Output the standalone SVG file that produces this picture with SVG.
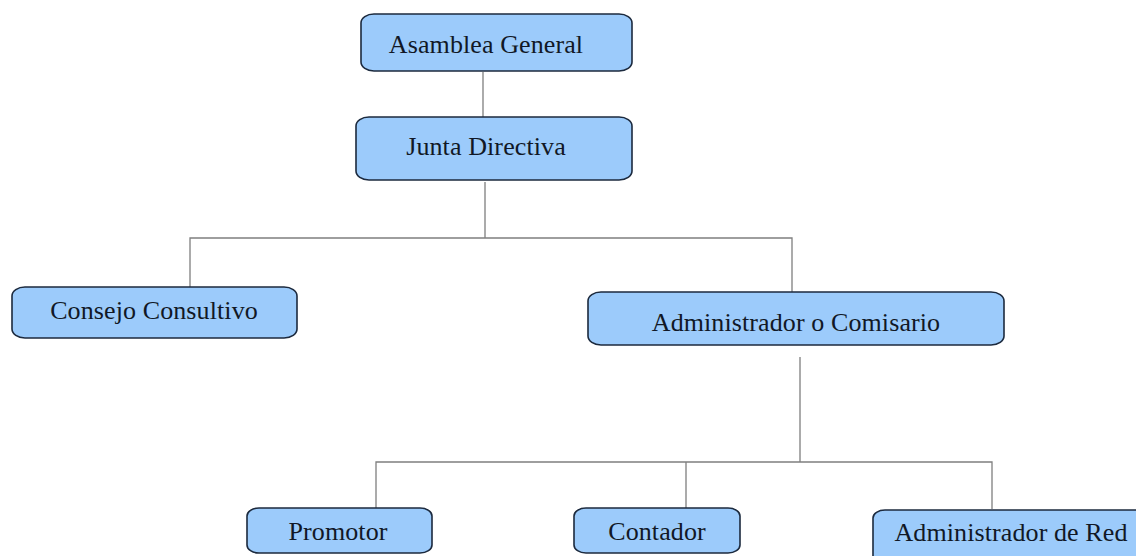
<svg xmlns="http://www.w3.org/2000/svg" width="1136" height="556" viewBox="0 0 1136 556">
<style>
.box{fill:#9ccbfb;stroke:#1c2a3e;stroke-width:1.6}
.lbl{font-family:"Liberation Serif","Times New Roman",serif;font-size:26px;fill:#111826;text-anchor:middle;letter-spacing:0.1px}
.conn{stroke:#7f7f7f;stroke-width:1.3;fill:none}
</style>
<rect width="1136" height="556" fill="#ffffff"/>
<g id="connectors">
<path class="conn" d="M483 72 V117"/>
<path class="conn" d="M485 182 V238 M190 287 V238 H792 V292"/>
<path class="conn" d="M800 357 V462 M376 508 V462 H992 V509 M686 462 V508"/>
</g>
<g id="asamblea">
<rect class="box" x="361" y="14" width="271" height="57" rx="13" ry="9"/>
<text class="lbl" x="486" y="53">Asamblea General</text>
</g>
<g id="junta">
<rect class="box" x="356" y="117" width="276" height="63" rx="13" ry="9"/>
<text class="lbl" x="486" y="155">Junta Directiva</text>
</g>
<g id="consejo">
<rect class="box" x="12" y="287" width="285" height="51" rx="13" ry="9"/>
<text class="lbl" x="154" y="319">Consejo Consultivo</text>
</g>
<g id="administrador">
<rect class="box" x="588" y="292" width="416" height="53" rx="13" ry="9"/>
<text class="lbl" x="796" y="331">Administrador o Comisario</text>
</g>
<g id="promotor">
<rect class="box" x="247" y="508" width="185" height="45" rx="12" ry="8"/>
<text class="lbl" x="338" y="540">Promotor</text>
</g>
<g id="contador">
<rect class="box" x="574" y="508" width="166" height="45" rx="12" ry="8"/>
<text class="lbl" x="657" y="540">Contador</text>
</g>
<g id="admin-red">
<rect class="box" x="873" y="510" width="275" height="60" rx="12" ry="8"/>
<text class="lbl" x="1011" y="541">Administrador de Red</text>
</g>
</svg>
